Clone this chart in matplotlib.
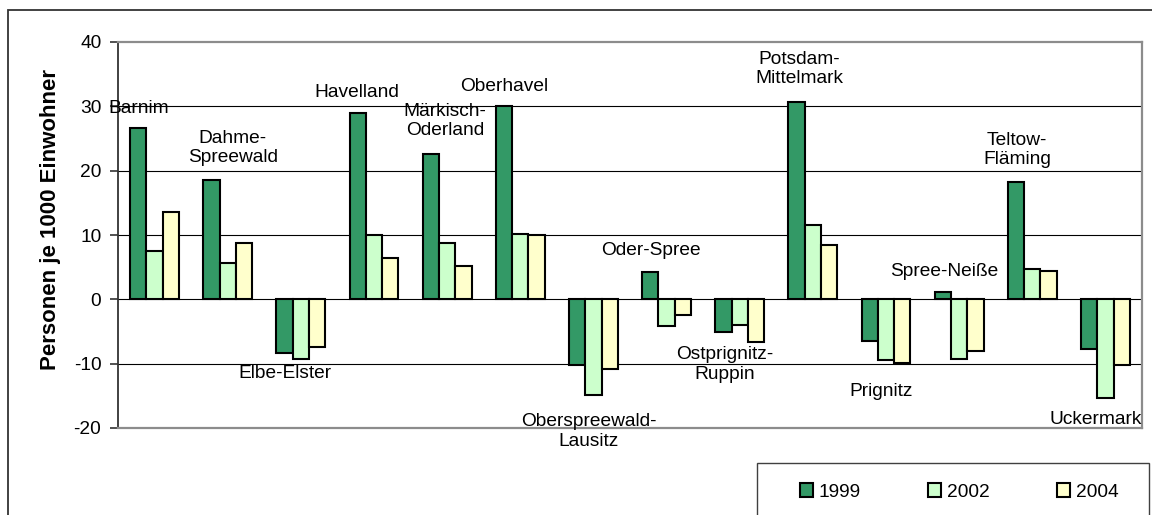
import numpy as np
import matplotlib.pyplot as plt
from matplotlib.patches import Rectangle

plt.rcParams['font.family'] = ['Liberation Sans', 'DejaVu Sans']
plt.rcParams['axes.unicode_minus'] = False

kreise = ['Barnim', 'Dahme-\nSpreewald', 'Elbe-Elster', 'Havelland', 'Märkisch-\nOderland',
          'Oberhavel', 'Oberspreewald-\nLausitz', 'Oder-Spree', 'Ostprignitz-\nRuppin',
          'Potsdam-\nMittelmark', 'Prignitz', 'Spree-Neiße', 'Teltow-\nFläming', 'Uckermark']
v1999 = [26.6, 18.5, -8.3, 29.0, 22.6, 30.0, -10.2, 4.3, -5.1, 30.7, -6.5, 1.2, 18.3, -7.7]
v2002 = [7.5, 5.7, -9.3, 10.0, 8.7, 10.2, -14.9, -4.2, -4.0, 11.5, -9.4, -9.2, 4.7, -15.3]
v2004 = [13.5, 8.8, -7.4, 6.5, 5.2, 10.0, -10.9, -2.4, -6.6, 8.4, -9.9, -8.0, 4.4, -10.2]
jahre = ['1999', '2002', '2004']
farben = ['#339966', '#ccffcc', '#ffffcc']

# where the (hand-moved) category labels sit
lab_x = [-0.22, 1.07, 1.78, 2.77, 3.97, 4.78, 5.94, 6.79, 7.79, 8.81, 9.93, 10.79, 11.79, 12.87]
lab_y = [29.7, 23.5, -11.6, 32.1, 27.7, 33.1, -20.5, 7.6, -10.1, 35.8, -14.4, 4.35, 23.2, -18.7]

W, H = 1152, 515
fig = plt.figure(figsize=(W / 100, H / 100), dpi=100)
ax = fig.add_axes([118 / W, 1 - 428 / H, 1024 / W, 386 / H])

x = np.arange(len(kreise))
bw = 1 / 4.5
for i, (vals, c, j) in enumerate(zip([v1999, v2002, v2004], farben, jahre)):
    ax.bar(x + (i - 1) * bw, vals, bw, color=c, edgecolor='black', linewidth=1.5, label=j, zorder=3)

for name, lx, ly in zip(kreise, lab_x, lab_y):
    ax.text(lx, ly, name, ha='center', va='center', fontsize=13.8, zorder=4)

ax.set_xlim(-0.5, len(kreise) - 0.5)
ax.set_ylim(-20, 40)
ax.set_yticks(range(-20, 41, 10))
ax.set_xticks([])
ax.tick_params(axis='y', labelsize=13.8, length=6, width=1.2, pad=6, color='#333333')
for y in [-10, 0, 10, 20, 30]:
    ax.axhline(y, color='black', linewidth=0.8, zorder=1)
for s in ['top', 'right', 'bottom']:
    ax.spines[s].set_color('#8c8c8c')
    ax.spines[s].set_linewidth(1.6)
ax.spines['left'].set_color('#333333')
ax.spines['left'].set_linewidth(1.3)

fig.text(51 / W, 1 - 220 / H, 'Personen je 1000 Einwohner', rotation=90, ha='center', va='center',
         fontsize=16, fontweight='bold')

# outer chart frame, cut off at right and bottom
fig.add_artist(Rectangle((8 / W, -0.2), 1.2, 1.2 - 10 / H, transform=fig.transFigure,
                         fill=False, edgecolor='#333333', linewidth=1.3, clip_on=False))
# legend box
fig.add_artist(Rectangle((757 / W, -0.2), 392 / W, 0.2 + 1 - 463 / H, transform=fig.transFigure,
                         fill=False, edgecolor='#404040', linewidth=1.0, clip_on=False))
leg = fig.legend(loc='center left', bbox_to_anchor=(790 / W, 1 - 492 / H), ncol=3, frameon=False,
                 fontsize=13.8, borderpad=0, handlelength=0.7, handleheight=0.7,
                 handletextpad=0.3, columnspacing=3.5)

fig.savefig('out.png', dpi=100)
